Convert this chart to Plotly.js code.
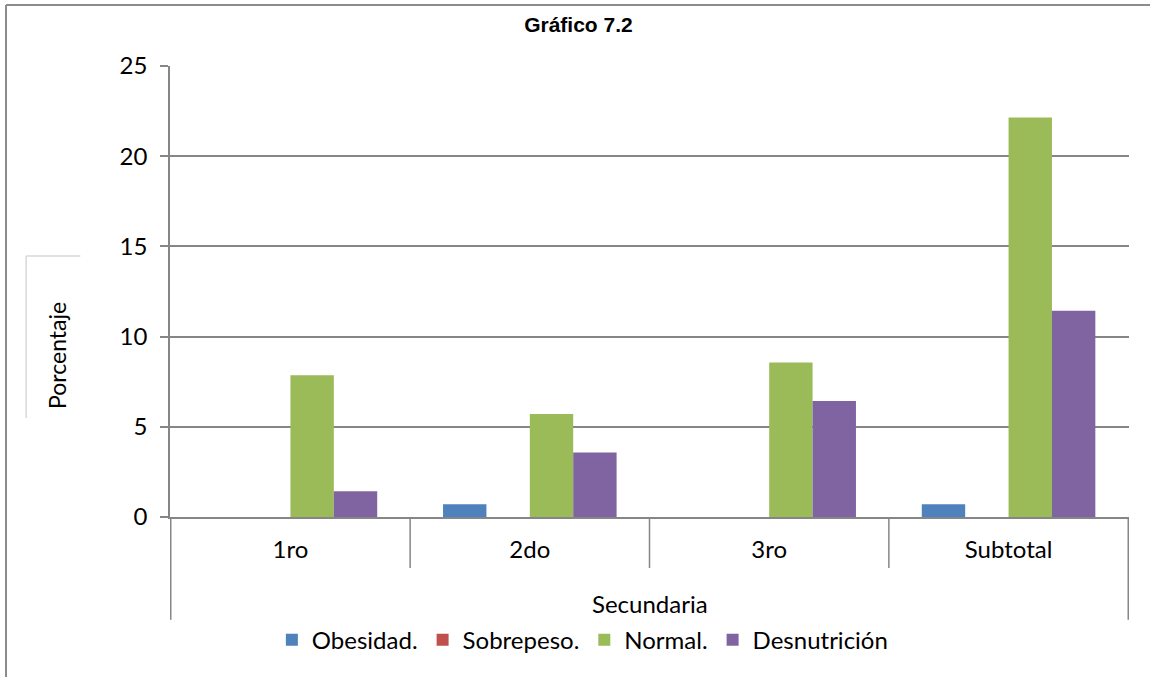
<!DOCTYPE html>
<html>
<head>
<meta charset="utf-8">
<script src="https://cdn.plot.ly/plotly-3.0.1.min.js"></script>
<style>html,body{margin:0;padding:0;background:#fff;}#chart{width:1150px;height:677px;}</style>
</head>
<body>
<div id="chart"></div>
<script>
const categories = ["1ro", "2do", "3ro", "Subtotal"];
const groupLabel = "Secundaria";
const obesidad = [0, 0.71, 0, 0.71];
const sobrepeso = [0, 0, 0, 0];
const normal = [7.86, 5.71, 8.57, 22.14];
const desnutricion = [1.43, 3.57, 6.43, 11.43];
const seriesNames = ["Obesidad.", "Sobrepeso.", "Normal.", "Desnutrición"];
const seriesColors = ["#4f81bd", "#c0504d", "#9bbb59", "#8064a2"];
const yTicks = [0, 5, 10, 15, 20, 25];

const seriesValues = [obesidad, sobrepeso, normal, desnutricion];
const traces = seriesValues.map((vals, i) => ({
  type: "bar",
  x: categories,
  y: vals,
  name: seriesNames[i],
  marker: {color: seriesColors[i], line: {width: 0}},
  hoverinfo: "x+y+name"
}));

const font = "Lato, 'Open Sans', sans-serif";
const gray = "#868686";
const shapes = [];
for (let i = 0; i <= categories.length; i++) {
  const outer = (i === 0 || i === categories.length);
  shapes.push({type: "line", xref: "x", yref: "paper", x0: i - 0.5, x1: i - 0.5,
    y0: outer ? -0.228 : -0.113, y1: 0, line: {color: gray, width: 1.5}});
}
shapes.push({type: "line", xref: "paper", yref: "paper", x0: -0.171, x1: -0.171, y0: -0.4, y1: 1.135, line: {color: "#8c8c8c", width: 2}});
shapes.push({type: "line", xref: "paper", yref: "paper", x0: -0.171, x1: 1.03, y0: 1.135, y1: 1.135, line: {color: "#8c8c8c", width: 2}});
shapes.push({type: "line", xref: "paper", yref: "paper", x0: -0.150, x1: -0.0935, y0: 0.5787, y1: 0.5787, line: {color: "#d9d9d9", width: 1.5}});
shapes.push({type: "line", xref: "paper", yref: "paper", x0: -0.150, x1: -0.150, y0: 0.5787, y1: 0.2195, line: {color: "#d9d9d9", width: 1.5}});

const layout = {
  width: 1150, height: 677,
  margin: {l: 170, r: 21, t: 66, b: 160},
  paper_bgcolor: "#ffffff", plot_bgcolor: "#ffffff",
  font: {family: font, size: 24, color: "#000"},
  title: {text: "<b>Gráfico 7.2</b>", font: {family: "Arial, 'Liberation Sans', sans-serif", size: 21, color: "#000"},
    x: 0.503, xanchor: "center", y: 0.963, yanchor: "middle"},
  barmode: "group",
  bargap: 0.275,
  bargroupgap: 0,
  showlegend: true,
  legend: {orientation: "h", x: 0.43, xanchor: "center", y: -0.273, yanchor: "middle",
    font: {family: font, size: 24, color: "#000"}, itemclick: false, traceorder: "normal", itemwidth: 30},
  xaxis: {type: "category", showgrid: false, showline: true, linecolor: gray, linewidth: 1.5,
    ticks: "", ticklabelstandoff: 10, tickfont: {family: font, size: 24, color: "#000"},
    fixedrange: true},
  yaxis: {range: [0, 25], tickvals: yTicks, ticktext: yTicks.map(String), showgrid: true, gridcolor: gray, gridwidth: 1.5,
    showline: true, linecolor: gray, linewidth: 1.5, ticks: "outside", ticklen: 8, tickcolor: gray, tickwidth: 1.5,
    zeroline: false, tickfont: {family: font, size: 24, color: "#000"}, ticklabelstandoff: 8, fixedrange: true},
  shapes: shapes,
  annotations: [
    {text: "Porcentaje", xref: "paper", yref: "paper", x: -0.118, y: 0.359, textangle: -90, showarrow: false,
      xanchor: "center", yanchor: "middle", font: {family: font, size: 23, color: "#000"}},
    {text: groupLabel, xref: "paper", yref: "paper", x: 0.5, y: -0.1907, showarrow: false,
      xanchor: "center", yanchor: "middle", font: {family: font, size: 24, color: "#000"}}
  ]
};

Plotly.newPlot("chart", traces, layout, {displayModeBar: false});
</script>
</body>
</html>
